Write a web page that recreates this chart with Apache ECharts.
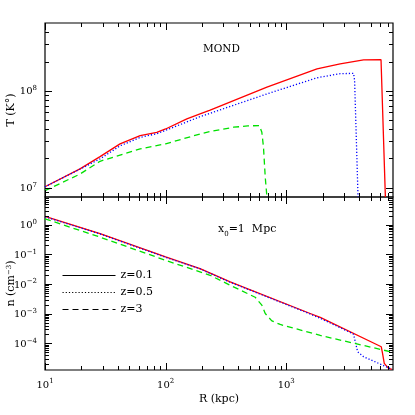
<!DOCTYPE html>
<html>
<head>
<meta charset="utf-8">
<script src="https://cdn.jsdelivr.net/npm/echarts@6/dist/echarts.min.js"></script>
<style>
html,body{margin:0;padding:0;background:#fff;}
#main{width:415px;height:415px;}
</style>
</head>
<body>
<div id="main"></div>
<script>
// axis ranges (R in kpc, T in K, n in cm^-3)
var rMin = 10, rMax = 7680;
var tMin = 8e6, tMax = 5e8;
var nMin = 1.27e-5, nMax = 8.6;

var xMajor = [10, 100, 1000];
var tMajor = [1e7, 1e8];
var nMajor = [1, 1e-1, 1e-2, 1e-3, 1e-4];

var legendNames = ['z=0.1', 'z=0.5', 'z=3'];

// temperature profiles  [R, T]
var tempZ01 = [[10, 1.02e7], [19.5, 1.56e7], [28.6, 2.09e7], [41.9, 2.83e7], [61.5, 3.44e7], [84.5, 3.72e7],
  [100, 4.03e7], [150, 5.12e7], [193, 5.77e7], [234, 6.3e7], [692, 1.09e8], [1800, 1.68e8], [2800, 1.89e8],
  [4380, 2.08e8], [6110, 2.09e8], [6640, 8e6]];
var tempZ05 = [[10, 1.02e7], [19.5, 1.55e7], [28.6, 1.98e7], [41.9, 2.7e7], [61.5, 3.3e7], [84.5, 3.6e7],
  [100, 3.9e7], [193, 5.4e7], [234, 5.85e7], [692, 9.27e7], [1800, 1.36e8], [2800, 1.5e8], [3620, 1.51e8],
  [3690, 1.27e8], [3940, 8e6]];
var tempZ3 = [[10, 9.3e6], [19.5, 1.38e7], [28.6, 1.87e7], [61.5, 2.51e7], [100, 2.83e7], [193, 3.58e7],
  [234, 3.8e7], [366, 4.2e7], [480, 4.33e7], [600, 4.37e7], [628, 3.72e7], [648, 2.61e7], [670, 1.28e7], [692, 8e6]];

// density profiles  [R, n]
var densZ01 = [[10, 1.9], [28.6, 0.5], [100, 0.082], [193, 0.033], [343, 0.0118], [1580, 1.02e-3],
  [1915, 7.5e-4], [6140, 7.7e-5], [6290, 4.6e-5], [6500, 2.13e-5], [7060, 1.44e-5], [7540, 1.34e-5]];
var densZ05 = [[10, 1.85], [28.6, 0.49], [100, 0.08], [193, 0.0325], [343, 0.0115], [1580, 9.8e-4],
  [1915, 7.0e-4], [2800, 3.4e-4], [3610, 2.05e-4], [3740, 1.13e-4], [3910, 5.2e-5], [4380, 3.55e-5],
  [5830, 2.13e-5], [7540, 1.34e-5]];
var densZ3 = [[10, 1.58], [28.6, 0.383], [100, 0.063], [234, 0.0198], [343, 9.1e-3], [553, 3.6e-3],
  [628, 1.94e-3], [670, 1.02e-3], [760, 5.75e-4], [891, 4.35e-4], [1580, 2.3e-4], [1915, 1.86e-4], [7680, 5e-5]];

var FONT = 'DejaVu Serif';

function minorTicks(lo, hi) {
  var out = [];
  for (var e = Math.floor(Math.log10(lo)); e <= Math.ceil(Math.log10(hi)); e++) {
    for (var m = 2; m <= 9; m++) {
      var v = m * Math.pow(10, e);
      if (v > lo * 1.001 && v < hi * 0.999) out.push(v);
    }
  }
  return out;
}

function powLabel(v) {
  var l = Math.log10(v);
  var e = Math.round(l);
  if (Math.abs(l - e) > 1e-6) return '';
  return '{b|10}{s|' + (e < 0 ? '\u2212' + (-e) : e) + '}';
}

var labelRich = {
  b: { fontFamily: FONT, fontSize: 10, color: '#000', lineHeight: 12, verticalAlign: 'bottom' },
  s: { fontFamily: FONT, fontSize: 7, color: '#000', lineHeight: 8, verticalAlign: 'top' }
};

var colors = ['#ff0000', '#0000ff', '#00e000'];
var types = ['solid', [1.2, 2], [6, 4]];

function curve(name, data, gi, idx) {
  return {
    name: name, type: 'line', xAxisIndex: gi, yAxisIndex: gi, data: data,
    symbol: 'none', showSymbol: false, silent: true, animation: false,
    lineStyle: { color: colors[idx], width: 1.3, type: types[idx] },
    itemStyle: { color: colors[idx] }
  };
}

var notes = [
  { type: 'text', left: 203, top: 44, silent: true,
    style: { text: 'MOND', font: '10.5px "DejaVu Serif"', fill: '#000' } },
  { type: 'text', left: 218, top: 224, silent: true,
    style: { text: '{a|x}{b|0}{a|=1  Mpc}', fill: '#000',
      rich: { a: { fontFamily: FONT, fontSize: 11, lineHeight: 14, verticalAlign: 'top' },
              b: { fontFamily: FONT, fontSize: 7, lineHeight: 14, verticalAlign: 'bottom' } } } }
];

var myChart = echarts.init(document.getElementById('main'));

myChart.setOption({
  backgroundColor: '#fff',
  animation: false,
  grid: [
    { left: 45, top: 23, width: 348, height: 174, outerBoundsMode: 'none', show: true,
      borderColor: '#000', borderWidth: 1.2, backgroundColor: 'transparent' },
    { left: 45, top: 197, width: 348, height: 173, outerBoundsMode: 'none', show: true,
      borderColor: '#000', borderWidth: 1.2, backgroundColor: 'transparent' }
  ],
  xAxis: [
    { type: 'log', gridIndex: 0, min: rMin, max: rMax, axisLine: { show: false }, axisTick: { show: false },
      axisLabel: { show: false }, splitLine: { show: false } },
    { type: 'log', gridIndex: 1, min: rMin, max: rMax, axisLine: { show: false }, axisTick: { show: false },
      splitLine: { show: false },
      axisLabel: { formatter: powLabel, rich: labelRich, margin: 8 },
      name: 'R (kpc)', nameLocation: 'middle', nameGap: 24, nameMoveOverlap: false,
      nameTextStyle: { fontFamily: FONT, fontSize: 11, color: '#000' } }
  ],
  yAxis: [
    { type: 'log', gridIndex: 0, min: tMin, max: tMax, axisLine: { show: false }, axisTick: { show: false },
      splitLine: { show: false },
      axisLabel: { formatter: powLabel, rich: labelRich, margin: 8 },
      name: 'T (K\u00b0)', nameLocation: 'middle', nameRotate: 90, nameGap: 28, nameMoveOverlap: false,
      nameTextStyle: { fontFamily: FONT, fontSize: 11, color: '#000' } },
    { type: 'log', gridIndex: 1, min: nMin, max: nMax, axisLine: { show: false }, axisTick: { show: false },
      splitLine: { show: false },
      axisLabel: { formatter: powLabel, rich: labelRich, margin: 8 },
      name: 'n (cm{s|\u22123})', nameLocation: 'middle', nameRotate: 90, nameGap: 28, nameMoveOverlap: false,
      nameTextStyle: { fontFamily: FONT, fontSize: 11, color: '#000',
        rich: { s: { fontFamily: FONT, fontSize: 7, verticalAlign: 'top', lineHeight: 8, color: '#000' } } } }
  ],
  legend: {
    orient: 'vertical', left: 62, top: 270, padding: 0, itemWidth: 53, itemHeight: 10, itemGap: 6,
    selectedMode: false,
    textStyle: { fontFamily: FONT, fontSize: 11, color: '#000', lineHeight: 10 },
    data: legendNames.map(function (n) {
      return { name: n, lineStyle: { color: '#000', width: 1 }, itemStyle: { opacity: 0 } };
    })
  },
  graphic: { elements: notes },
  series: [
    curve(legendNames[0], tempZ01, 0, 0),
    curve(legendNames[1], tempZ05, 0, 1),
    curve(legendNames[2], tempZ3, 0, 2),
    curve(legendNames[0], densZ01, 1, 0),
    curve(legendNames[1], densZ05, 1, 1),
    curve(legendNames[2], densZ3, 1, 2)
  ]
});

// tick marks on all four sides, placed through the axes' own log scales
function tickMarks(gi, yMajor, yLo, yHi) {
  var f = { gridIndex: gi };
  var lb = myChart.convertToPixel(f, [rMin, yLo]);
  var rt = myChart.convertToPixel(f, [rMax, yHi]);
  var left = lb[0], bottom = lb[1], right = rt[0], top = rt[1];
  var out = [];
  function bar(x, y, w, h) {
    out.push({ type: 'rect', silent: true, z: 10, shape: { x: x, y: y, width: w, height: h },
      style: { fill: '#000' } });
  }
  function xt(v, len) {
    var x = Math.round(myChart.convertToPixel(f, [v, yLo])[0]);
    bar(x, bottom - len, 1, len);
    bar(x, top, 1, len);
  }
  function yt(v, len) {
    var y = Math.round(myChart.convertToPixel(f, [rMin, v])[1]);
    bar(left, y, len, 1);
    bar(right - len, y, len, 1);
  }
  xMajor.forEach(function (v) { xt(v, 7); });
  minorTicks(rMin, rMax).forEach(function (v) { xt(v, 4); });
  yMajor.forEach(function (v) { yt(v, 7); });
  minorTicks(yLo, yHi).forEach(function (v) { yt(v, 4); });
  return out;
}

myChart.setOption({
  graphic: { elements: notes.concat(tickMarks(0, tMajor, tMin, tMax), tickMarks(1, nMajor, nMin, nMax)) }
});
</script>
</body>
</html>
